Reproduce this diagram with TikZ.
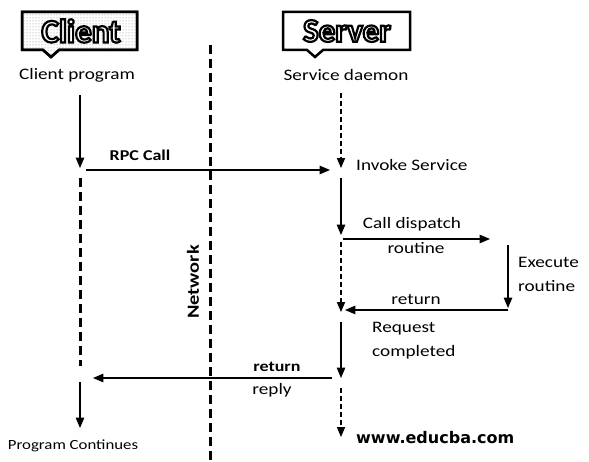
\documentclass[tikz,border=0pt]{standalone}
\usepackage{fontspec}
\setmainfont{Carlito}[FakeStretch=1.2]
\newfontfamily\hdrfont{Carlito}
\newfontfamily\webfont{DejaVu Sans}
\usetikzlibrary{shapes, arrows, patterns}

\newcommand{\outlinetext}[1]{{\color{white}\special{pdf:literal direct 0 G 2.2 w 2 Tr}#1\special{pdf:literal direct 0 Tr}}}

\begin{document}
\begin{tikzpicture}[x=1pt,y=-1pt,>=triangle 45]
            \tikzstyle{txt}=[font=\fontsize{16}{24}\selectfont,inner sep=0pt]
            \tikzstyle{btxt}=[font=\fontsize{15}{20}\selectfont\bfseries,inner sep=0pt]
            \tikzstyle{hdr}=[font=\hdrfont\fontsize{33}{34}\selectfont\bfseries,inner sep=0pt]
            \tikzstyle{hdrbox}=[line width=2.5pt]
            \tikzstyle{solidarrow}=[line width=1.4pt,->]
            \tikzstyle{dasharrow}=[line width=1.3pt,dash pattern=on 5pt off 3pt,->]
            \tikzstyle{thickdash}=[line width=3pt,dash pattern=on 9pt off 5pt]
            \useasboundingbox (0,0) rectangle (589,462);
            % headers
            \filldraw[hdrbox,pattern=dots,pattern color=gray] (22,12) -- (137,12) -- (137,50) -- (59,50) -- (51,57) -- (43,50) -- (22,50) -- cycle;
            \draw[hdrbox] (22,12) -- (137,12) -- (137,50) -- (59,50) -- (51,57) -- (43,50) -- (22,50) -- cycle;
            \node[hdr] (clienthdr) at (81,31) {\outlinetext{Client}};
            \draw[hdrbox,fill=white] (283,12) -- (410,12) -- (410,50) -- (323,50) -- (315,57) -- (307,50) -- (283,50) -- cycle;
            \node[hdr] (serverhdr) at (347,31) {\outlinetext{Server}};
            \node[txt] (clientprog) at (77,75) {Client program};
            \node[txt] (daemon) at (346,75) {Service daemon};
            % network
            \coordinate (netTop) at (210,45);
            \coordinate (netBot) at (210,462);
            \draw[thickdash] (netTop) -- (netBot);
            \node[font=\fontsize{17}{24}\selectfont\bfseries,inner sep=0pt,rotate=90] (network) at (193,282) {Network};
            % client side
            \coordinate (c1) at (80,95);
            \coordinate (c2) at (80,168);
            \coordinate (c3) at (80,178);
            \coordinate (c4) at (80,366);
            \coordinate (c5) at (80,382);
            \coordinate (c6) at (80,428);
            \draw[solidarrow] (c1) -- (c2);
            \draw[thickdash] (c3) -- (c4);
            \draw[solidarrow] (c5) -- (c6);
            \node[font=\fontsize{14}{18}\selectfont,inner sep=0pt] (continues) at (73,446) {Program Continues};
            % server side
            \coordinate (s1) at (341,93);
            \coordinate (s2) at (341,168);
            \coordinate (s3) at (341,178);
            \coordinate (s4) at (341,235);
            \coordinate (s5) at (341,242);
            \coordinate (s6) at (341,312);
            \coordinate (s7) at (341,322);
            \coordinate (s8) at (341,378);
            \coordinate (s9) at (341,388);
            \coordinate (s10) at (341,437);
            \draw[dasharrow] (s1) -- (s2);
            \draw[solidarrow] (s3) -- (s4);
            \draw[dasharrow] (s5) -- (s6);
            \draw[solidarrow] (s7) -- (s8);
            \draw[dasharrow] (s9) -- (s10);
            \node[txt,anchor=west] (invoke) at (356,165) {Invoke Service};
            \node[txt,anchor=north west,align=left] (completed) at (372,322) {Request\\completed};
            \node[font=\webfont\fontsize{16}{20}\selectfont\bfseries,inner sep=0pt,anchor=west] (web) at (356,438) {www.educba.com};
            % rpc call
            \coordinate (rpcA) at (86,170);
            \coordinate (rpcB) at (330,170);
            \draw[solidarrow] (rpcA) -- (rpcB);
            \node[btxt] (rpc) at (140,155) {RPC Call};
            % dispatch
            \coordinate (dA) at (343,239);
            \coordinate (dB) at (490,239);
            \draw[solidarrow] (dA) -- (dB);
            \node[txt] (dispatch) at (412,224) {Call dispatch};
            \node[txt] (routine) at (416,248) {routine};
            \coordinate (eA) at (508,245);
            \coordinate (eB) at (508,308);
            \draw[solidarrow] (eA) -- (eB);
            \node[txt,anchor=north west,align=left] (execute) at (518,257) {Execute\\routine};
            \coordinate (rA) at (508,310);
            \coordinate (rB) at (345,310);
            \draw[solidarrow] (rA) -- (rB);
            \node[txt] (ret) at (416,300) {return};
            % reply
            \coordinate (pA) at (332,378);
            \coordinate (pB) at (93,378);
            \draw[solidarrow] (pA) -- (pB);
            \node[btxt] (retb) at (277,367) {return};
            \node[txt] (reply) at (272,390) {reply};
\end{tikzpicture}
\end{document}
